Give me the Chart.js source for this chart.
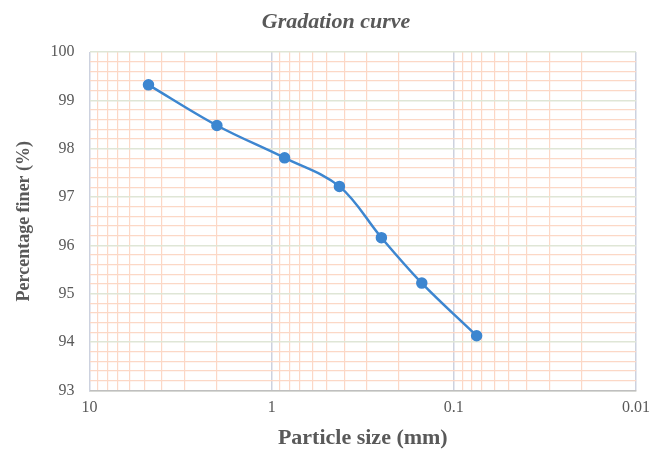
<!DOCTYPE html>
<html>
<head>
<meta charset="utf-8">
<script src="https://cdn.jsdelivr.net/npm/chart.js@4/dist/chart.umd.min.js"></script>
<style>
  html, body { margin: 0; padding: 0; background: #ffffff; }
  #wrap { width: 672px; height: 452px; position: relative; }
</style>
</head>
<body>
<div id="wrap"><canvas id="chart"></canvas></div>
<script>
// Sieve analysis: particle size (mm) vs. cumulative percentage passing
const particleSize = [4.75, 2.0, 0.85, 0.425, 0.25, 0.15, 0.075];
const percentFiner = [99.32, 98.48, 97.81, 97.22, 96.16, 95.22, 94.13];

// Log-axis grid positions (1..9 per decade) and the labelled decades
const sizeGridValues = [];
[0.01, 0.1, 1].forEach(d => { for (let k = 1; k <= 9; k++) sizeGridValues.push(+(d * k).toPrecision(3)); });
sizeGridValues.push(10);
const sizeTickLabels = ['10', '1', '0.1', '0.01'];
const chartTitle = 'Gradation curve';

const SERIF = "'Liberation Serif', 'Times New Roman', serif";
const TEXT = '#595959';
const MINOR = '#fcd8c6';
const MAJOR_X = '#cdd2df';
const MAJOR_Y = '#dfe6d6';

const isDecade = v => sizeTickLabels.includes(String(+v.toPrecision(3)));
const isWhole = v => Math.abs(v - Math.round(v)) < 1e-6;

// Title centred on the whole canvas rather than on the padded layout box
const centredTitle = {
  id: 'centredTitle',
  afterDraw(chart) {
    const ctx = chart.ctx;
    ctx.save();
    ctx.font = `italic bold 22px ${SERIF}`;
    ctx.fillStyle = TEXT;
    ctx.textAlign = 'center';
    ctx.textBaseline = 'middle';
    ctx.fillText(chartTitle, chart.width / 2, 22);
    ctx.restore();
  }
};

new Chart(document.getElementById('chart'), {
  type: 'scatter',
  data: {
    datasets: [{
      data: particleSize.map((x, i) => ({ x, y: percentFiner[i] })),
      showLine: true,
      tension: 0.35,
      borderColor: '#3d86d0',
      backgroundColor: '#3d86d0',
      borderWidth: 2.5,
      pointRadius: 4.5,
      pointHoverRadius: 4.5
    }]
  },
  options: {
    responsive: true,
    maintainAspectRatio: false,
    animation: false,
    layout: { padding: { left: 10, right: 36, top: 52, bottom: 0 } },
    plugins: {
      legend: { display: false },
      tooltip: { enabled: false },
      title: { display: false }
    },
    scales: {
      x: {
        type: 'logarithmic',
        reverse: true,
        min: 0.01,
        max: 10,
        afterBuildTicks: scale => { scale.ticks = sizeGridValues.map(v => ({ value: v })); },
        ticks: {
          autoSkip: false,
          maxRotation: 0,
          color: TEXT,
          padding: 8,
          font: { family: SERIF, size: 16 },
          callback: v => isDecade(v) ? String(+v.toPrecision(3)) : ''
        },
        grid: {
          drawTicks: false,
          color: ctx => isDecade(ctx.tick.value) ? MAJOR_X : MINOR,
          lineWidth: ctx => isDecade(ctx.tick.value) ? 1.5 : 1.2
        },
        border: { color: '#bfbfbf', width: 1.5 },
        title: {
          display: true,
          text: 'Particle size (mm)',
          color: TEXT,
          font: { family: SERIF, size: 22, weight: 'bold' },
          padding: { top: 0, bottom: 0 }
        }
      },
      y: {
        min: 93,
        max: 100,
        ticks: {
          stepSize: 0.2,
          autoSkip: false,
          color: TEXT,
          padding: 15,
          font: { family: SERIF, size: 16 },
          callback: v => isWhole(v) ? String(Math.round(v)) : ''
        },
        grid: {
          drawTicks: false,
          color: ctx => isWhole(ctx.tick.value) ? MAJOR_Y : MINOR,
          lineWidth: ctx => isWhole(ctx.tick.value) ? 1.5 : 1.2
        },
        border: { color: MAJOR_X, width: 1 },
        title: {
          display: true,
          text: 'Percentage finer (%)',
          color: TEXT,
          font: { family: SERIF, size: 18, weight: 'bold' },
          padding: { top: 4, bottom: 0 }
        }
      }
    }
  },
  plugins: [centredTitle]
});
</script>
</body>
</html>
